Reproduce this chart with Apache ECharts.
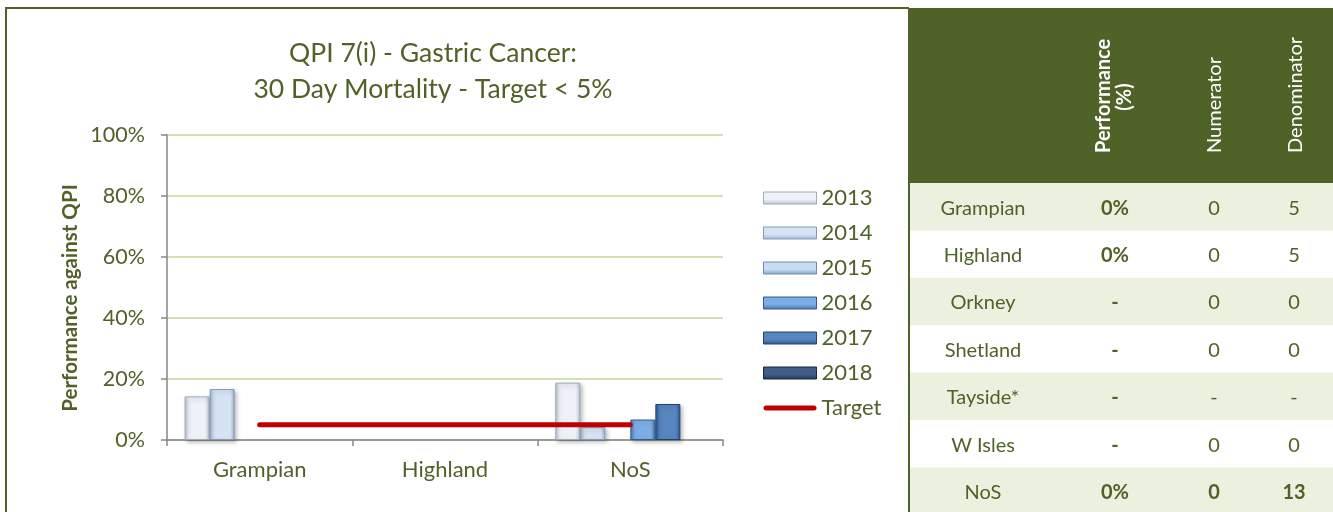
<!DOCTYPE html>
<html>
<head>
<meta charset="utf-8">
<script src="https://cdn.jsdelivr.net/npm/echarts@6/dist/echarts.min.js"></script>
<style>
html,body{margin:0;padding:0;background:#fff;}
#chart{width:1333px;height:512px;}
</style>
</head>
<body>
<div id="chart"></div>
<script>
// ---- chart data ----
var categories = ['Grampian', 'Highland', 'NoS'];
var years = ['2013', '2014', '2015', '2016', '2017', '2018'];
var v2013 = [14.3, 0, 18.8];
var v2014 = [16.7, 0, 4.2];
var v2015 = [0, 0, 0];
var v2016 = [0, 0, 6.7];
var v2017 = [0, 0, 11.8];
var v2018 = [0, 0, 0];
var target = [5, 5, 5];
var yTicks = [0, 20, 40, 60, 80, 100];

// ---- table data ----
var tableNames = ['Grampian', 'Highland', 'Orkney', 'Shetland', 'Tayside*', 'W Isles', 'NoS'];
var tablePerf = ['0%', '0%', '-', '-', '-', '-', '0%'];
var tableNum = ['0', '0', '0', '0', '-', '0', '0'];
var tableDen = ['5', '5', '0', '0', '-', '0', '13'];
var tableHeaders = ['Performance', '(%)', 'Numerator', 'Denominator'];

var seriesValues = [v2013, v2014, v2015, v2016, v2017, v2018];
var OLIVE = '#4F6228';
var FONT = 'Lato';

var barStyles = [
  {edge: '#B8C2D0', mid: '#EEF2F8', border: '#A0AABA'},
  {edge: '#A0B4CE', mid: '#D6E3F2', border: '#8699B5'},
  {edge: '#83A4CC', mid: '#C8DDF4', border: '#6D8DB5'},
  {edge: '#4576B3', mid: '#7DADE6', border: '#355C8E'},
  {edge: '#2F578C', mid: '#5685BF', border: '#23446D'},
  {edge: '#203857', mid: '#3F5F87', border: '#162940'}
];

function grad(s, vertical) {
  return new echarts.graphic.LinearGradient(0, 0, vertical ? 0 : 1, vertical ? 1 : 0, [
    {offset: 0, color: vertical ? s.mid : s.edge},
    {offset: vertical ? 0.3 : 0.18, color: s.mid},
    {offset: vertical ? 0.6 : 0.82, color: s.mid},
    {offset: 1, color: s.edge}
  ]);
}

var series = years.map(function (y, i) {
  return {
    name: y,
    type: 'bar',
    data: seriesValues[i].map(function (v) {
      return v === 0 ? {value: v, itemStyle: {borderWidth: 0, shadowBlur: 0, shadowOffsetX: 0, shadowOffsetY: 0, opacity: 0}} : v;
    }),
    barGap: 0,
    barCategoryGap: '19%',
    itemStyle: {
      color: grad(barStyles[i], false),
      borderColor: barStyles[i].border,
      borderWidth: 1,
      shadowBlur: 4,
      shadowColor: 'rgba(0,0,0,0.25)',
      shadowOffsetX: 2,
      shadowOffsetY: 2
    },
    z: 2
  };
});
series.push({
  name: 'Target',
  type: 'line',
  data: target,
  symbol: 'none',
  lineStyle: {color: '#C00000', width: 5, cap: 'round'},
  itemStyle: {color: '#C00000'},
  z: 5
});

// ---- graphics: frame, title, axis name, table ----
var graphics = [];
graphics.push({type: 'rect', shape: {x: 5, y: 7, width: 904, height: 2}, style: {fill: OLIVE}, z: 10});
graphics.push({type: 'rect', shape: {x: 5, y: 7, width: 2, height: 506}, style: {fill: OLIVE}, z: 10});
graphics.push({type: 'text', x: 433, y: 53, style: {text: 'QPI 7(i) - Gastric Cancer:', font: '26.5px ' + FONT, fill: OLIVE, align: 'center', verticalAlign: 'middle'}});
graphics.push({type: 'text', x: 433, y: 89, style: {text: '30 Day Mortality - Target < 5%', font: '26.5px ' + FONT, fill: OLIVE, align: 'center', verticalAlign: 'middle'}});
graphics.push({type: 'text', x: 70, y: 298, rotation: Math.PI / 2, style: {text: 'Performance against QPI', font: 'bold 20.5px ' + FONT, fill: OLIVE, align: 'center', verticalAlign: 'middle'}});

// table
var tx = 908, rowTop = 183, rowH = 47.4;
graphics.push({type: 'rect', shape: {x: tx, y: 8, width: 1333 - tx, height: rowTop - 8}, style: {fill: OLIVE}});
graphics.push({type: 'rect', shape: {x: tx, y: 8, width: 2, height: 504}, style: {fill: OLIVE}, z: 10});
var colX = [983, 1115, 1214, 1294];
tableNames.forEach(function (n, r) {
  var y0 = rowTop + r * rowH;
  if (r % 2 === 0) {
    graphics.push({type: 'rect', shape: {x: tx + 2, y: y0, width: 1333 - tx - 2, height: rowH + (r === 6 ? 5 : 0)}, style: {fill: '#EBF1DE'}});
  }
  var cy = y0 + rowH / 2 + 1.5;
  var boldRow = (n === 'NoS');
  var cells = [n, tablePerf[r], tableNum[r], tableDen[r]];
  cells.forEach(function (c, ci) {
    var bold = (ci === 1) || (boldRow && ci > 0);
    graphics.push({type: 'text', x: colX[ci], y: cy, style: {text: c, font: (bold ? 'bold ' : '') + '20px ' + FONT, fill: OLIVE, align: 'center', verticalAlign: 'middle'}});
  });
});
// headers
graphics.push({type: 'text', x: 1104, y: 153, rotation: Math.PI / 2, style: {text: tableHeaders[0], font: 'bold 20px ' + FONT, fill: '#FFFFFF', align: 'left', verticalAlign: 'middle'}});
graphics.push({type: 'text', x: 1125, y: 97, rotation: Math.PI / 2, style: {text: tableHeaders[1], font: 'bold 20px ' + FONT, fill: '#FFFFFF', align: 'center', verticalAlign: 'middle'}});
graphics.push({type: 'text', x: 1215, y: 153, rotation: Math.PI / 2, style: {text: tableHeaders[2], font: '20px ' + FONT, fill: '#FFFFFF', align: 'left', verticalAlign: 'middle'}});
graphics.push({type: 'text', x: 1296, y: 153, rotation: Math.PI / 2, style: {text: tableHeaders[3], font: '20px ' + FONT, fill: '#FFFFFF', align: 'left', verticalAlign: 'middle'}});

var legendData = years.map(function (y, i) {
  return {name: y, icon: 'rect', itemStyle: {color: grad(barStyles[i], true), borderColor: barStyles[i].border, borderWidth: 1}};
}).concat([{
  name: 'Target',
  icon: 'path://M2.5,0 L50.5,0 A2.5,2.5 0 0 1 50.5,5 L2.5,5 A2.5,2.5 0 0 1 2.5,0 Z',
  itemStyle: {color: '#C00000', borderWidth: 0}
}]);

var chart = echarts.init(document.getElementById('chart'), null, {renderer: 'canvas'});
chart.setOption({
  animation: false,
  backgroundColor: '#FFFFFF',
  textStyle: {fontFamily: FONT},
  grid: {left: 167, top: 135, width: 556, height: 305, containLabel: false},
  legend: {
    orient: 'vertical',
    left: 763,
    top: 187,
    padding: 0,
    itemWidth: 53,
    itemHeight: 12,
    itemGap: 13,
    symbolKeepAspect: true,
    itemStyle: {shadowBlur: 0, shadowOffsetX: 0, shadowOffsetY: 0},
    textStyle: {fontSize: 22, color: OLIVE, fontFamily: FONT, lineHeight: 22},
    data: legendData
  },
  xAxis: {
    type: 'category',
    data: categories,
    axisLine: {lineStyle: {color: '#868686', width: 1.5}},
    axisTick: {show: true, length: 6, lineStyle: {color: '#868686', width: 1.5}},
    axisLabel: {fontSize: 22, color: OLIVE, margin: 19, fontFamily: FONT}
  },
  yAxis: {
    type: 'value',
    min: yTicks[0],
    max: yTicks[yTicks.length - 1],
    interval: yTicks[1] - yTicks[0],
    axisLine: {show: true, lineStyle: {color: '#868686', width: 1.5}},
    axisTick: {show: true, length: 6, lineStyle: {color: '#868686', width: 1.5}},
    axisLabel: {formatter: '{value}%', fontSize: 21.5, color: OLIVE, margin: 22, fontFamily: FONT},
    splitLine: {lineStyle: {color: '#C3D69B', width: 1.5}}
  },
  series: series,
  graphic: graphics
});
</script>
</body>
</html>
